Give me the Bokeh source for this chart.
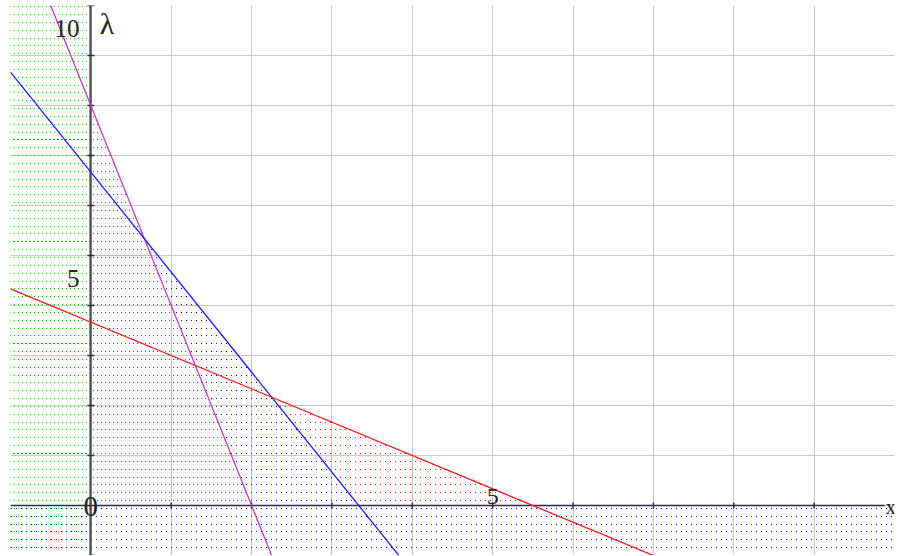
import numpy as np
from bokeh.plotting import figure
from bokeh.models import Grid, SingleIntervalTicker, Label
from bokeh.embed import file_html
from bokeh.resources import INLINE

# ---- data: constraint lines a*x + b*y = c ----
line_names = ["magenta", "blue", "red"]
line_a = [4, 6, 2]
line_b = [1, 3, 3]
line_c = [8, 20, 11]
line_colors = ["#cc33cc", "#1a1aff", "#ff1a1a"]

x_ticks = [1, 2, 3, 4, 5, 6, 7, 8, 9]
y_ticks = [-1, 1, 2, 3, 4, 5, 6, 7, 8, 9, 10]
y_labels = ["10", "5"]
y_label_pos = [10, 5]
x_labels = ["5"]
x_label_pos = [5]

X0, X1 = -1.0, 10.0
Y0, Y1 = -1.0, 10.0
FW, FH = 884, 550
BL, BR, BT, BB = 10, 2, 5, 0

p = figure(width=BL + FW + BR, height=BT + FH + BB, x_range=(X0, X1), y_range=(Y0, Y1),
           x_axis_location=None, y_axis_location=None, toolbar_location=None,
           output_backend="svg", min_border_left=BL, min_border_right=BR,
           min_border_top=BT, min_border_bottom=BB, outline_line_color=None,
           background_fill_color="white", border_fill_color="white")

for dim in (0, 1):
    p.add_layout(Grid(dimension=dim, ticker=SingleIntervalTicker(interval=1),
                      grid_line_color="#c8c8c8", grid_line_width=1))

# ---- dotted shading of the excluded regions ----
cols = np.arange(BL, BL + FW)
rows = np.arange(BT, BT + FH)
PX, PY = np.meshgrid(cols, rows)
# pixel centre in data units (the canvas is shifted by half a pixel)
DX = X0 + (PX - BL) * (X1 - X0) / FW
DY = Y1 - (PY - BT) * (Y1 - Y0) / FH

row_k = np.round((PY - 14) / 7.839)
on_row = np.abs(14 + row_k * 7.839 - PY) < 0.5


def f(i):
    return line_a[i] * DX + line_b[i] * DY - line_c[i]


green = on_row & ((PX % 4) == 2) & (DX < 0)
magenta = on_row & ((PX % 4) == 1) & (DY >= 0) & (f(0) < 0) & \
    ((DX >= 0) | np.isin(row_k, [16, 29, 42, 56]))
blue_mid = on_row & ((PX % 5) == 1) & (DX >= 0) & (DY >= 0) & (f(0) >= 0) & (f(1) < 0)
red = on_row & ((PX % 5) == 0) & (DX >= 0) & (DY >= 0) & (f(0) >= 0) & (f(1) >= 0) & (f(2) < 0)
blue_low = on_row & ((PX % 5) == 1) & (DY < 0)

for mask, color in [(green, "#00cc00"), (magenta, "#cc00cc"), (blue_mid | blue_low, "#0000dd"),
                    (red, "#ff0000")]:
    p.rect(DX[mask], DY[mask], width=1, height=1, width_units="screen", height_units="screen",
           fill_color=color, line_color=None)

# ---- axes ----
px_unit = FW / (X1 - X0)
p.line([-1.0 / px_unit, -1.0 / px_unit], [-1, 10], line_color="#00bb00", line_width=1.2)
p.line([0, 0], [-1, 10], line_color="#505050", line_width=1.8)
p.line([-1, 9.88], [0, 0], line_color="#2a2a4a", line_width=1.3)
p.scatter(x=x_ticks, y=[0] * len(x_ticks), marker="dash", size=6, angle=np.pi / 2,
          line_color="#303030", line_width=1.5)
p.scatter(x=[0] * len(y_ticks), y=y_ticks, marker="dash", size=7,
          line_color="#303030", line_width=1.5)

# ---- constraint lines ----
xs = [X0, X1]
for a, b, c, col in zip(line_a, line_b, line_c, line_colors):
    ys = [(c - a * xv) / b for xv in xs]
    p.line(xs, ys, line_color=col, line_width=1.3)

# ---- labels ----
serif = "Liberation Serif"
for t, yv in zip(y_labels, y_label_pos):
    p.add_layout(Label(x=-0.14, y=yv - 0.46, text=t, text_font=serif, text_font_size="25px",
                       text_align="right", text_baseline="middle", text_color="#222222"))
for t, xv in zip(x_labels, x_label_pos):
    p.add_layout(Label(x=xv, y=0.03, text=t, text_font=serif, text_font_size="24px",
                       text_align="center", text_baseline="bottom", text_color="#222222"))
p.add_layout(Label(x=0, y=-0.02, text="0", text_font=serif, text_font_size="29px",
                   text_align="center", text_baseline="middle", text_color="#222222"))
p.add_layout(Label(x=0.2, y=9.64, text="λ", text_font="Liberation Sans Narrow", text_font_size="30px",
                   text_align="center", text_baseline="middle", text_color="#222222"))
p.add_layout(Label(x=9.89, y=-0.02, text="x", text_font="Liberation Sans Narrow", text_font_size="20px",
                   text_align="left", text_baseline="middle", text_color="#222222"))

open("out.html", "w").write(file_html(p, INLINE))
